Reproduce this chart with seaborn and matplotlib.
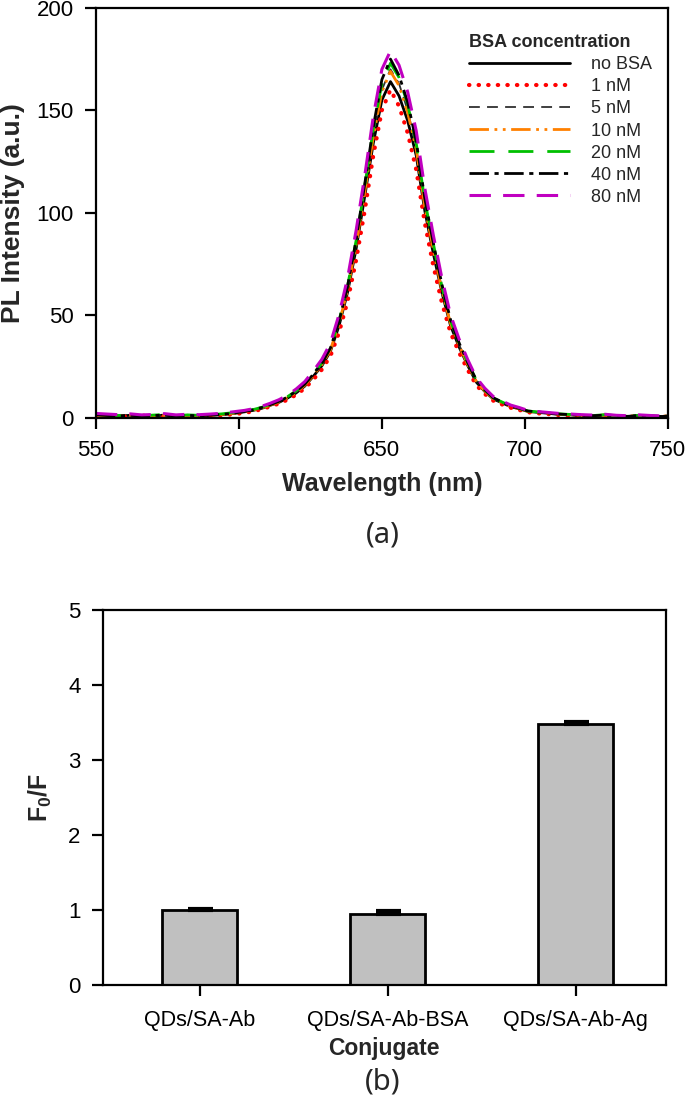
import numpy as np
import pandas as pd
import seaborn as sns
import matplotlib.pyplot as plt

# ---- panel (a): PL spectra ----
wavelength = [550, 554, 558, 562, 566, 570, 574, 578, 582, 586, 590, 594, 598,
              602, 605, 608, 611, 614, 617, 620, 623, 626, 629, 632, 635, 638, 641, 644, 647,
              650, 653, 656, 659, 662, 665, 668, 671, 674, 677, 680, 683, 686, 689, 692, 695,
              698, 701, 704,
              708, 712, 716, 720, 724, 728, 732, 736, 740, 744, 748, 750]

no_bsa = [1.4, 1.0, 0.8, 1.2, 0.6, 0.9, 1.3, 0.7, 1.1, 0.8, 1.2, 1.5, 2.1,
          2.9, 3.6, 4.6, 6.1, 7.5, 9.6, 12.1, 15.4, 20.2, 25.3, 32.4, 44.8, 61.2, 82.5, 108, 134,
          155, 164, 157, 145, 128, 101, 80, 61, 45, 34.5, 25.5, 17.4, 12.8, 9.1, 7.3, 5.4,
          4.4, 3.1, 2.7,
          2.2, 1.6, 1.4, 1.1, 0.9, 1.3, 0.8, 0.6, 1.0, 0.7, 0.5, 0.8]
bsa_1nm = [1.0, 0.5, 0.9, 0.4, 1.1, 0.6, 0.3, 0.9, 0.5, 0.8, 1.0, 1.2, 1.7,
           2.4, 3.1, 4.2, 5.5, 6.9, 8.8, 11.2, 14.3, 18.6, 23.5, 30.1, 41.5, 56.8, 77.0, 101, 128,
           150, 160, 152, 139, 121, 95, 74, 56, 41.5, 31.8, 23.4, 15.9, 11.6, 8.3, 6.5, 4.9,
           3.8, 2.7, 2.2,
           1.8, 1.3, 1.0, 0.9, 0.6, 1.1, 0.5, 0.4, 0.8, 0.5, 0.3, 0.6]
bsa_5nm = [1.6, 1.2, 1.0, 1.4, 0.9, 1.1, 1.5, 0.9, 1.3, 1.0, 1.4, 1.7, 2.3,
           3.1, 3.8, 4.9, 6.3, 7.8, 9.9, 12.5, 15.9, 20.8, 26.1, 33.4, 46.2, 63.1, 85.0, 111, 138,
           160, 170, 163, 150, 132, 104, 83, 63, 46.5, 35.6, 26.3, 18.0, 13.2, 9.4, 7.5, 5.6,
           4.5, 3.2, 2.8,
           2.3, 1.8, 1.5, 1.2, 1.0, 1.4, 0.9, 0.8, 1.1, 0.8, 0.6, 0.9]
bsa_10nm = [1.3, 1.1, 0.7, 1.3, 0.8, 1.0, 1.2, 0.6, 1.2, 0.9, 1.1, 1.6, 2.2,
            3.0, 3.7, 4.8, 6.2, 7.7, 9.8, 12.4, 15.8, 20.6, 25.9, 33.1, 45.8, 62.6, 84.4, 110, 137,
            159, 169, 162, 149, 131, 103, 82, 62, 46.0, 35.3, 26.0, 17.8, 13.0, 9.3, 7.4, 5.5,
            4.4, 3.1, 2.7,
            2.2, 1.7, 1.5, 1.1, 1.0, 1.3, 0.9, 0.7, 1.2, 0.8, 0.6, 1.1]
bsa_20nm = [1.7, 1.3, 1.1, 1.5, 1.0, 1.3, 1.6, 1.0, 1.4, 1.2, 1.5, 1.9, 2.5,
            3.3, 4.0, 5.1, 6.6, 8.1, 10.3, 13.1, 16.6, 21.4, 26.8, 34.2, 47.2, 64.3, 86.6, 113, 141,
            163, 173, 166, 153, 134, 106, 85, 64, 47.4, 36.3, 26.9, 18.4, 13.5, 9.6, 7.7, 5.8,
            4.6, 3.3, 2.9,
            2.4, 1.9, 1.6, 1.3, 1.1, 1.5, 1.0, 0.9, 1.2, 0.9, 0.7, 1.0]
bsa_40nm = [1.5, 1.1, 0.9, 1.2, 0.8, 1.0, 1.4, 0.8, 1.2, 0.9, 1.3, 1.6, 2.2,
            3.1, 3.9, 5.0, 6.4, 8.0, 10.1, 12.9, 16.3, 21.2, 26.6, 34.0, 47.0, 64.2, 86.8, 114, 142,
            165, 175, 167, 154, 135, 107, 85, 65, 47.8, 36.5, 27.0, 18.5, 13.6, 9.7, 7.7, 5.8,
            4.6, 3.3, 2.9,
            2.3, 1.8, 1.5, 1.2, 1.0, 1.3, 0.9, 0.7, 1.1, 0.8, 0.6, 0.9]
bsa_80nm = [2.1, 1.8, 1.5, 1.9, 1.4, 1.6, 2.0, 1.4, 1.7, 1.5, 1.8, 2.2, 2.9,
            3.6, 4.4, 5.6, 7.1, 8.8, 11.0, 14.0, 17.6, 22.8, 28.5, 36.4, 50.3, 68.2, 91.5, 118, 147,
            170, 179, 172, 159, 140, 112, 89, 68, 50.2, 38.4, 28.4, 19.6, 14.4, 10.3, 8.2, 6.2,
            5.0, 3.6, 3.1,
            2.6, 2.1, 1.8, 1.5, 1.3, 1.7, 1.2, 1.0, 1.4, 1.1, 0.9, 1.2]

series_names = ['no BSA', '1 nM', '5 nM', '10 nM', '20 nM', '40 nM', '80 nM']
series_vals = [no_bsa, bsa_1nm, bsa_5nm, bsa_10nm, bsa_20nm, bsa_40nm, bsa_80nm]

# ---- panel (b): F0/F per conjugate ----
conjugates = ['QDs/SA-Ab', 'QDs/SA-Ab-BSA', 'QDs/SA-Ab-Ag']
f_ratio = [1.0, 0.95, 3.48]
f_err = [0.02, 0.04, 0.02]

sns.set_theme(style='ticks')
plt.rcParams['font.family'] = ['Liberation Sans', 'DejaVu Sans']
plt.rcParams['mathtext.fontset'] = 'custom'
plt.rcParams['mathtext.rm'] = 'Liberation Sans'
plt.rcParams['mathtext.bf'] = 'Liberation Sans:bold'

fig = plt.figure(figsize=(6.85, 11.17), dpi=100)
ax1 = fig.add_axes([0.140, 0.626, 0.835, 0.367])
ax2 = fig.add_axes([0.150, 0.118, 0.822, 0.336])

styles = {
    'no BSA': dict(color='black', linestyle='-', lw=2),
    '1 nM': dict(color='#ff0000', linestyle=(0, (0.1, 2.2)), lw=3, dash_capstyle='round'),
    '5 nM': dict(color='#303030', linestyle=(0, (6, 4)), lw=1.3),
    '10 nM': dict(color='#ff8000', linestyle=(0, (7, 2, 1, 2, 1, 2)), lw=2),
    '20 nM': dict(color='#00c000', linestyle=(0, (9, 5)), lw=2),
    '40 nM': dict(color='black', linestyle=(0, (7, 2, 1.5, 2)), lw=2),
    '80 nM': dict(color='#c000c0', linestyle=(0, (7, 4)), lw=2.2),
}

for name, vals in zip(series_names, series_vals):
    sns.lineplot(x=wavelength, y=vals, ax=ax1, label=name, **styles[name])

ax1.set_xlim(550, 750)
ax1.set_ylim(0, 200)
ax1.set_xticks([550, 600, 650, 700, 750])
ax1.set_yticks([0, 50, 100, 150, 200])
ax1.set_xlabel('Wavelength (nm)', fontsize=18, fontweight='bold', labelpad=8)
ax1.set_ylabel('PL Intensity (a.u.)', fontsize=19, fontweight='bold', labelpad=8)
leg = ax1.legend(loc='upper right', bbox_to_anchor=(1.0, 0.975), frameon=False,
                 title='BSA concentration', fontsize=13, handlelength=5.6,
                 handletextpad=1.15, labelspacing=0.28, alignment='left')
leg.get_title().set_fontweight('bold')
leg.get_title().set_fontsize(13)

# bars
sns.barplot(x=conjugates, y=f_ratio, ax=ax2, color='#c0c0c0', edgecolor='black',
            linewidth=2, width=0.4, saturation=1)
ax2.errorbar(np.arange(len(conjugates)), f_ratio,
             yerr=[np.zeros(len(f_err)), f_err], fmt='none', ecolor='black',
             elinewidth=1.5, capsize=9, capthick=3)
ax2.set_xlim(-0.516, 2.479)
ax2.set_ylim(0, 5)
ax2.set_yticks([0, 1, 2, 3, 4, 5])
ax2.set_xlabel('Conjugate', fontsize=16.5, fontweight='bold', labelpad=4)
ax2.set_ylabel(r'$\mathbf{F_0/F}$', fontsize=18, labelpad=10)

for ax in (ax1, ax2):
    for s in ax.spines.values():
        s.set_linewidth(1.6)
        s.set_color('black')
    ax.tick_params(direction='out', length=8, width=1.6, labelsize=16, colors='black', pad=8)
ax2.tick_params(axis='x', labelsize=15.5, pad=10)

fig.text(0.559, 0.521, '(a)', ha='center', va='center', fontsize=21, family='Noto Sans')
fig.text(0.559, 0.031, '(b)', ha='center', va='center', fontsize=21, family='Noto Sans')

fig.savefig('out.png', dpi=100)
